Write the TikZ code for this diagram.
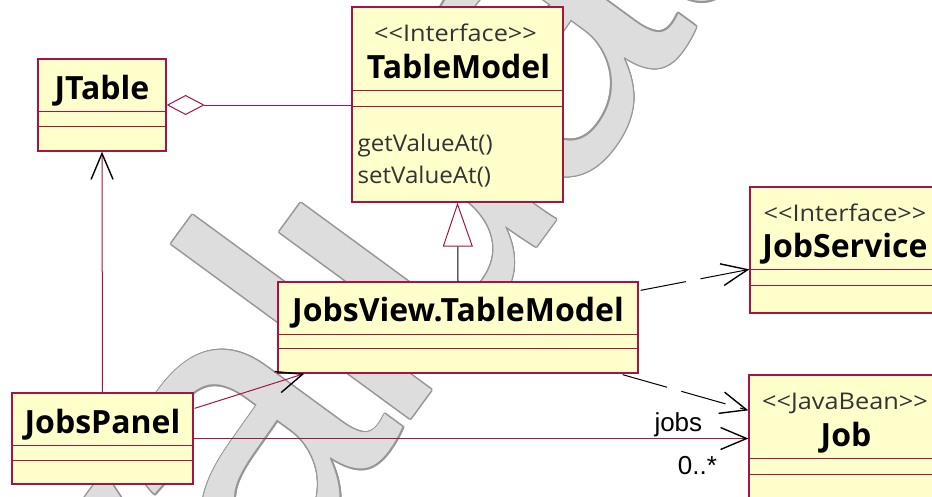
\documentclass[tikz,border=0pt]{standalone}
\usepackage{fontspec}
\setmainfont{Open Sans}
\newfontfamily\stereofont[FakeStretch=1.1]{Open Sans}
\newfontfamily\memberfont[FakeStretch=1.05]{Open Sans}
\newfontfamily\labelfont{Liberation Sans}
\newfontfamily\markfont[LetterSpace=-4]{Liberation Sans}
\usetikzlibrary{arrows.meta,calc}

\definecolor{umlred}{RGB}{164,20,68}
\definecolor{umlfill}{RGB}{255,255,204}
\definecolor{wmfill}{RGB}{221,221,221}
\definecolor{wmline}{RGB}{150,150,150}

\tikzset{
  umlclass/.style={rectangle, draw=umlred, fill=umlfill, line width=1.3pt, inner sep=0pt},
  divider/.style={draw=umlred, line width=1pt},
  classname/.style={anchor=base, inner sep=0pt, font=\bfseries\fontsize{32}{32}\selectfont},
  stereotype/.style={anchor=base, inner sep=0pt, text=black!80, font=\stereofont\fontsize{23}{23}\selectfont},
  member/.style={anchor=base west, inner sep=0pt, text=black!80, font=\memberfont\fontsize{23}{23}\selectfont},
  rolelabel/.style={anchor=base, inner sep=0pt, font=\labelfont\fontsize{26}{26}\selectfont},
  assoc/.style={draw=umlred, line width=1pt},
  dep/.style={draw=black, line width=1pt, dash pattern=on 46pt off 15pt},
  openhead/.style={-{Straight Barb[length=26pt, width=22pt, black, line width=1.4pt]}},
  bigletters/.style={anchor=base west, rotate=53.8, inner sep=0pt,
    font=\markfont\fontsize{409}{409}\selectfont},
}

\newcommand\umldividers[3]{%
  \draw[divider] ($(#1.north west)+(0,#2)$) -- ($(#1.north east)+(0,#2)$);
  \draw[divider] ($(#1.north west)+(0,#3)$) -- ($(#1.north east)+(0,#3)$);
}

\begin{document}
\begin{tikzpicture}[x=1pt, y=-1pt]
\useasboundingbox (0,0) rectangle (932,496);
\clip (0,0) rectangle (932,496);

% background lettering: outline from shifted copies, then the light fill
\coordinate (wmbase) at (7,971);
\foreach \a in {0,24,...,336}
  \node[bigletters, text=wmline] (wmo\a) at ($(wmbase)+(\a:1.3)$) {Evaluation};
\node[bigletters, text=wmfill] (wm) at (wmbase) {Evaluation};

% class boxes
\node[umlclass, minimum width=128pt, minimum height=92pt]  (jtable) at (102,105) {};
\node[umlclass, minimum width=211pt, minimum height=195pt] (tmodel) at (457.5,104.5) {};
\node[umlclass, minimum width=190pt, minimum height=126pt] (jserv)  at (845,250) {};
\node[umlclass, minimum width=360pt, minimum height=91pt]  (jview)  at (458,327.5) {};
\node[umlclass, minimum width=181pt, minimum height=91pt]  (jpanel) at (102.5,438.5) {};
\node[umlclass, minimum width=192pt, minimum height=165pt] (job)    at (845,457.5) {};

\umldividers{jtable}{53}{68}
\umldividers{tmodel}{84}{100}
\umldividers{jserv}{83}{99}
\umldividers{jview}{53}{67}
\umldividers{jpanel}{53}{68}
\umldividers{job}{84}{100}

% class texts
\node[classname] (jtable-n) at ($(jtable.north)+(0,41)$) {JTable};
\node[stereotype] (tmodel-s) at ($(tmodel.north)+(-2,35)$) {<{}<Interface>{}>};
\node[classname] (tmodel-n) at ($(tmodel.north)+(1,72)$) {TableModel};
\node[member] (tmodel-m1) at ($(tmodel.north west)+(6,145)$) {getValueAt()};
\node[member] (tmodel-m2) at ($(tmodel.north west)+(6,177)$) {setValueAt()};
\node[stereotype] (jserv-s) at ($(jserv.north)+(0,35)$) {<{}<Interface>{}>};
\node[classname] (jserv-n) at ($(jserv.north)+(0,71)$) {JobService};
\node[classname] (jview-n) at ($(jview.north)+(0,40)$) {JobsView.TableModel};
\node[classname] (jpanel-n) at ($(jpanel.north)+(0,41)$) {JobsPanel};
\node[stereotype] (job-s) at ($(job.north)+(0,35)$) {<{}<JavaBean>{}>};
\node[classname] (job-n) at ($(job.north)+(1,72)$) {Job};

% aggregation JTable <>-- TableModel
\draw[assoc, {Diamond[length=38pt, width=20pt, fill=white, umlred, line width=1pt]}-]
  (jtable.east) -- (jtable.east -| tmodel.west);

% JobsPanel --> JTable
\draw[assoc, openhead] (jpanel.north) -- (jtable.south);

% JobsView.TableModel realises TableModel
\draw[black, line width=1pt, -{Triangle[length=44pt, width=30pt, fill=white, umlred, line width=1pt]}]
  (jview.north) -- (tmodel.south);

% dependencies
\draw[dep, openhead] ($(jview.north east)+(2,9)$) -- ($(jserv.north west)+(0,83)$);
\draw[dep, openhead] ($(jview.south east)+(-16,1)$) -- ($(job.north west)+(0,36)$);

% JobsPanel --> JobsView.TableModel
\draw[assoc, openhead] ($(jpanel.north east)+(1,16)$) -- ($(jview.south west)+(27,0)$);

% JobsPanel --> Job
\draw[assoc, openhead] (jpanel.east) -- (jpanel.east -| job.west);
\node[rolelabel] (lbl-jobs) at ($(jpanel.east -| job.west)+(-70,-7)$) {jobs};
\node[rolelabel] (lbl-mult) at ($(jpanel.east -| job.west)+(-51,36)$) {0..*};
\end{tikzpicture}
\end{document}
